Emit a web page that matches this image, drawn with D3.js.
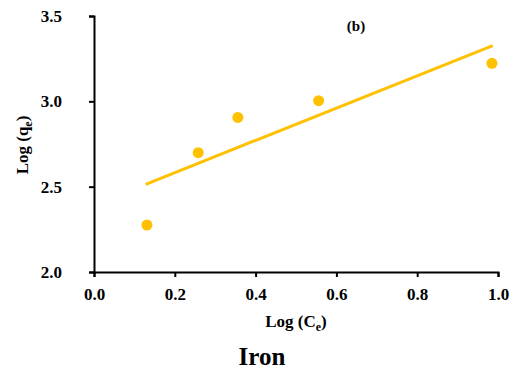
<!DOCTYPE html>
<html><head><meta charset="utf-8">
<script src="https://cdn.jsdelivr.net/npm/d3@7"></script>
<style>
body{margin:0;background:#fff;}
text{font-family:"Liberation Serif","Times New Roman",serif;font-weight:bold;fill:#000;}
</style></head>
<body><svg id="c" width="522" height="372"></svg>
<script>
const logCe = [0.131, 0.258, 0.356, 0.556, 0.985];
const logQe = [2.275, 2.699, 2.906, 3.004, 3.223];
const trendX = [0.128, 0.987];
const trendY = [2.514, 3.326];
const xTicks = [0.0, 0.2, 0.4, 0.6, 0.8, 1.0];
const yTicks = [2.0, 2.5, 3.0, 3.5];

const svg = d3.select("#c");
const x = d3.scaleLinear().domain([0, 1]).range([94, 498]);
const y = d3.scaleLinear().domain([2, 3.5]).range([272, 16]);
const col = "#FFC000";

const xa = svg.append("g").attr("transform","translate(0,272)")
  .call(d3.axisBottom(x).tickValues(xTicks).tickFormat(d3.format(".1f")).tickSizeOuter(0).tickSize(5).tickPadding(11));
const ya = svg.append("g").attr("transform","translate(94,0)")
  .call(d3.axisLeft(y).tickValues(yTicks).tickFormat(d3.format(".1f")).tickSizeOuter(0).tickSize(5).tickPadding(27));
[xa, ya].forEach(a=>{
  a.select(".domain").attr("stroke","#000").attr("stroke-width",2);
  a.selectAll(".tick line").attr("stroke","#000").attr("stroke-width",2);
  a.selectAll(".tick text").style("font-size","17px").style("font-family","Liberation Serif, serif").style("font-weight","bold");
});

svg.append("line")
  .attr("x1", x(trendX[0])).attr("y1", y(trendY[0]))
  .attr("x2", x(trendX[1])).attr("y2", y(trendY[1]))
  .attr("stroke", col).attr("stroke-width", 3);

svg.selectAll("circle.pt").data(logCe).enter().append("circle")
  .attr("class","pt")
  .attr("cx", d=>x(d)).attr("cy", (d,i)=>y(logQe[i])).attr("r", 5.5).attr("fill", col);

svg.append("text").attr("x",356).attr("y",31).attr("text-anchor","middle").style("font-size","15px").text("(b)");

const xl = svg.append("text").attr("x",296).attr("y",327).attr("text-anchor","middle").style("font-size","17px");
xl.append("tspan").text("Log (C");
xl.append("tspan").attr("dy",4).style("font-size","12px").text("e");
xl.append("tspan").attr("dy",-4).text(")");

const yl = svg.append("text").attr("transform","translate(28,145) rotate(-90)").attr("text-anchor","middle").style("font-size","17px");
yl.append("tspan").text("Log (q");
yl.append("tspan").attr("dy",4).style("font-size","12px").text("e");
yl.append("tspan").attr("dy",-4).text(")");

svg.append("text").attr("x",262).attr("y",365).attr("text-anchor","middle").style("font-size","25px").text("Iron");
</script></body></html>
